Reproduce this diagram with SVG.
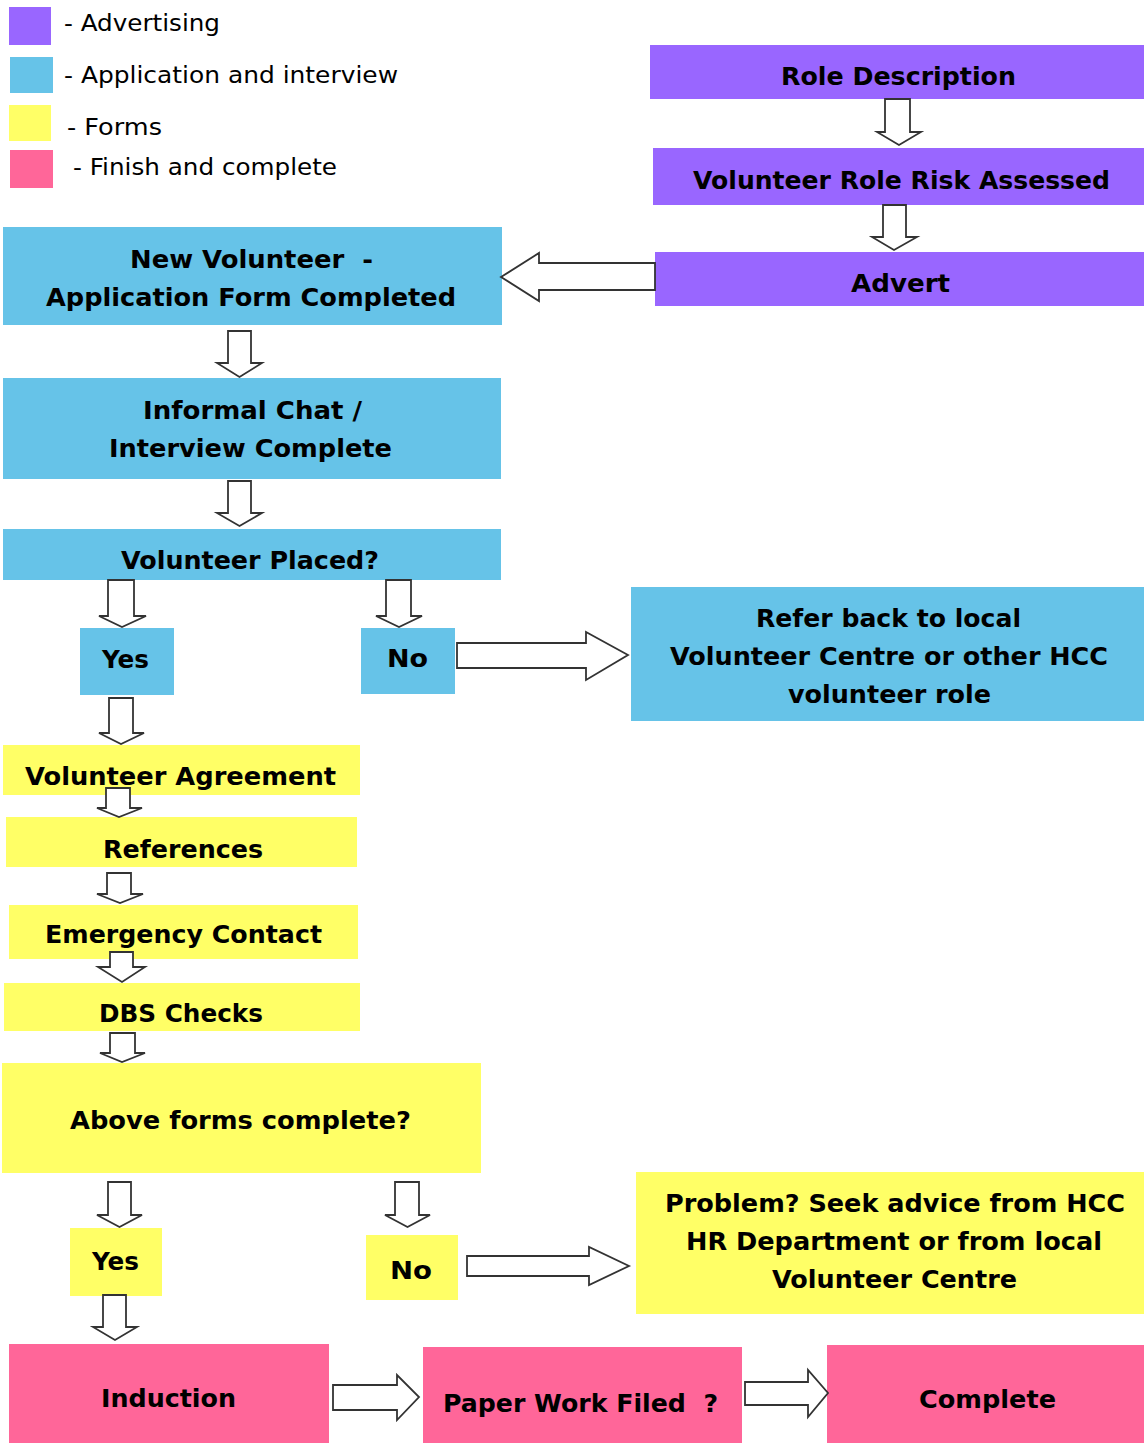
<svg xmlns="http://www.w3.org/2000/svg" width="1144" height="1443" viewBox="0 0 1144 1443">
<style>
.adv{fill:#9966FF}
.app{fill:#66C3E8}
.frm{fill:#FFFF66}
.fin{fill:#FF6699}
.t{font-family:"DejaVu Sans","Verdana",sans-serif;font-weight:bold;font-size:24px;fill:#000;text-anchor:middle}
.lg{font-family:"DejaVu Sans","Verdana",sans-serif;font-size:23px;fill:#000}
.arr{fill:#fff;stroke:#333;stroke-width:1.8;stroke-linejoin:miter}
</style>
<rect width="1144" height="1443" fill="#fff"/>
<g id="legend">
<rect class="adv" x="9" y="7" width="42" height="38"/>
<text class="lg" x="64" y="31" textLength="156" lengthAdjust="spacingAndGlyphs">- Advertising</text>
<rect class="app" x="10" y="57" width="43" height="36"/>
<text class="lg" x="64" y="83" textLength="334" lengthAdjust="spacingAndGlyphs">- Application and interview</text>
<rect class="frm" x="9" y="105" width="42" height="36"/>
<text class="lg" x="67" y="135" textLength="95" lengthAdjust="spacingAndGlyphs">- Forms</text>
<rect class="fin" x="10" y="150" width="43" height="38"/>
<text class="lg" x="73" y="175" textLength="264" lengthAdjust="spacingAndGlyphs">- Finish and complete</text>
</g>
<g id="role-description">
<rect class="adv" x="650" y="45" width="494" height="54"/>
<text class="t" x="898.5" y="85" textLength="235" lengthAdjust="spacingAndGlyphs">Role Description</text>
</g>
<g id="risk-assessed">
<rect class="adv" x="653" y="148" width="491" height="57"/>
<text class="t" x="901.5" y="189" textLength="417" lengthAdjust="spacingAndGlyphs">Volunteer Role Risk Assessed</text>
</g>
<g id="advert">
<rect class="adv" x="655" y="252" width="489" height="54"/>
<text class="t" x="900.5" y="292" textLength="99" lengthAdjust="spacingAndGlyphs">Advert</text>
</g>
<g id="application-form">
<rect class="app" x="3" y="227" width="499" height="98"/>
<text class="t" x="251.5" y="268" textLength="243" lengthAdjust="spacingAndGlyphs" xml:space="preserve">New Volunteer  -</text>
<text class="t" x="251" y="306" textLength="410" lengthAdjust="spacingAndGlyphs">Application Form Completed</text>
</g>
<g id="informal-chat">
<rect class="app" x="3" y="378" width="498" height="101"/>
<text class="t" x="252.5" y="419" textLength="219" lengthAdjust="spacingAndGlyphs">Informal Chat /</text>
<text class="t" x="250.5" y="457" textLength="283" lengthAdjust="spacingAndGlyphs">Interview Complete</text>
</g>
<g id="volunteer-placed">
<rect class="app" x="3" y="529" width="498" height="51"/>
<text class="t" x="250" y="569" textLength="258" lengthAdjust="spacingAndGlyphs">Volunteer Placed?</text>
</g>
<g id="placed-yes">
<rect class="app" x="80" y="628" width="94" height="67"/>
<text class="t" x="125.5" y="668" textLength="47" lengthAdjust="spacingAndGlyphs">Yes</text>
</g>
<g id="placed-no">
<rect class="app" x="361" y="628" width="94" height="66"/>
<text class="t" x="407.5" y="667" textLength="41" lengthAdjust="spacingAndGlyphs">No</text>
</g>
<g id="refer-back">
<rect class="app" x="631" y="587" width="513" height="134"/>
<text class="t" x="888.5" y="627" textLength="265" lengthAdjust="spacingAndGlyphs">Refer back to local</text>
<text class="t" x="889" y="665" textLength="438" lengthAdjust="spacingAndGlyphs">Volunteer Centre or other HCC</text>
<text class="t" x="889.5" y="703" textLength="203" lengthAdjust="spacingAndGlyphs">volunteer role</text>
</g>
<g id="volunteer-agreement">
<rect class="frm" x="3" y="745" width="357" height="50"/>
<text class="t" x="180.5" y="785" textLength="311" lengthAdjust="spacingAndGlyphs">Volunteer Agreement</text>
</g>
<g id="references">
<rect class="frm" x="6" y="817" width="351" height="50"/>
<text class="t" x="183" y="858" textLength="160" lengthAdjust="spacingAndGlyphs">References</text>
</g>
<g id="emergency-contact">
<rect class="frm" x="9" y="905" width="349" height="54"/>
<text class="t" x="183.5" y="943" textLength="277" lengthAdjust="spacingAndGlyphs">Emergency Contact</text>
</g>
<g id="dbs-checks">
<rect class="frm" x="4" y="983" width="356" height="48"/>
<text class="t" x="181" y="1022" textLength="164" lengthAdjust="spacingAndGlyphs">DBS Checks</text>
</g>
<g id="forms-complete">
<rect class="frm" x="2" y="1063" width="479" height="110"/>
<text class="t" x="240.5" y="1129" textLength="341" lengthAdjust="spacingAndGlyphs">Above forms complete?</text>
</g>
<g id="forms-yes">
<rect class="frm" x="70" y="1228" width="92" height="68"/>
<text class="t" x="115.5" y="1270" textLength="47" lengthAdjust="spacingAndGlyphs">Yes</text>
</g>
<g id="forms-no">
<rect class="frm" x="366" y="1235" width="92" height="65"/>
<text class="t" x="411" y="1279" textLength="42" lengthAdjust="spacingAndGlyphs">No</text>
</g>
<g id="problem">
<rect class="frm" x="636" y="1172" width="508" height="142"/>
<text class="t" x="895" y="1212" textLength="460" lengthAdjust="spacingAndGlyphs">Problem? Seek advice from HCC</text>
<text class="t" x="894" y="1250" textLength="416" lengthAdjust="spacingAndGlyphs">HR Department or from local</text>
<text class="t" x="894.5" y="1288" textLength="245" lengthAdjust="spacingAndGlyphs">Volunteer Centre</text>
</g>
<g id="induction">
<rect class="fin" x="9" y="1344" width="320" height="99"/>
<text class="t" x="168.5" y="1407" textLength="135" lengthAdjust="spacingAndGlyphs">Induction</text>
</g>
<g id="paper-work">
<rect class="fin" x="423" y="1347" width="319" height="96"/>
<text class="t" x="580.5" y="1412" textLength="275" lengthAdjust="spacingAndGlyphs" xml:space="preserve">Paper Work Filed  ?</text>
</g>
<g id="complete">
<rect class="fin" x="827" y="1345" width="317" height="98"/>
<text class="t" x="987.5" y="1408" textLength="137" lengthAdjust="spacingAndGlyphs">Complete</text>
</g>
<g id="connectors">
<polygon class="arr" points="885,99 910,99 910,132 921,132 899,145 877,132 885,132"/>
<polygon class="arr" points="883,205 906,205 906,237 917,237 894,250 872,237 883,237"/>
<polygon class="arr" points="655,263 539,263 539,253 501,277 539,301 539,290 655,290"/>
<polygon class="arr" points="228,331 251,331 251,363 262,363 239.5,377 217,363 228,363"/>
<polygon class="arr" points="228,481 251,481 251,513 262,513 239.5,526 217,513 228,513"/>
<polygon class="arr" points="108,580 134,580 134,616 146,616 122,627 99,616 108,616"/>
<polygon class="arr" points="386,580 411,580 411,616 422,616 399,627 376,616 386,616"/>
<polygon class="arr" points="457,643 586,643 586,632 628,655 586,680 586,668 457,668"/>
<polygon class="arr" points="109,698 133,698 133,733 144,733 121,744 99,733 109,733"/>
<polygon class="arr" points="106,788 130,788 130,808 142,808 119,817 97,808 106,808"/>
<polygon class="arr" points="107,873 131,873 131,894 143,894 120,903 97,894 107,894"/>
<polygon class="arr" points="110,952 133,952 133,967 145,967 122,982 98,967 110,967"/>
<polygon class="arr" points="110,1033 135,1033 135,1053 145,1053 122,1062 100,1053 110,1053"/>
<polygon class="arr" points="108,1182 131,1182 131,1215 142,1215 119.5,1227 97,1215 108,1215"/>
<polygon class="arr" points="395,1182 419,1182 419,1215 430,1215 407.5,1227 385,1215 395,1215"/>
<polygon class="arr" points="467,1256 589,1256 589,1247 629,1266 589,1285 589,1276 467,1276"/>
<polygon class="arr" points="103,1295 126,1295 126,1327 137,1327 115,1340 93,1327 103,1327"/>
<polygon class="arr" points="333,1385 397,1385 397,1375 419,1397 397,1420 397,1410 333,1410"/>
<polygon class="arr" points="745,1382 808,1382 808,1370 828,1393 808,1417 808,1405 745,1405"/>
</g>
</svg>
